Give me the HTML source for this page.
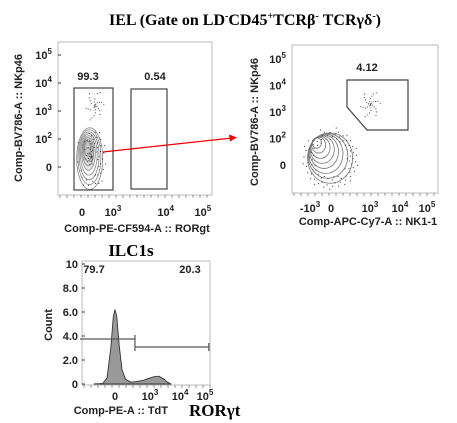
<!DOCTYPE html>
<html><head><meta charset="utf-8">
<style>
html,body{margin:0;padding:0;background:#fff;}
svg{display:block;font-family:"Liberation Sans",Arial,sans-serif;}
.t{font-size:11px;font-weight:bold;fill:#222;}
.s{font-size:8px;font-weight:bold;fill:#222;}
</style></head>
<body>
<svg id="root" width="457" height="423" viewBox="0 0 457 423">
<text x="245" y="25" text-anchor="middle" font-family="Liberation Serif,serif" font-weight="bold" font-size="16">IEL (Gate on LD<tspan font-size="10" dy="-6">-</tspan><tspan dy="6">CD45</tspan><tspan font-size="10" dy="-6">+</tspan><tspan dy="6">TCRβ</tspan><tspan font-size="10" dy="-6">-</tspan><tspan dy="6"> TCRγδ</tspan><tspan font-size="10" dy="-6">-</tspan><tspan dy="6">)</tspan></text>

<g id="p1">
<rect x="58" y="42" width="154" height="153" fill="none" stroke="#bbb" stroke-width="1"/>
<text class="t" transform="translate(22,118) rotate(-90)" text-anchor="middle">Comp-BV786-A :: NKp46</text>
<text class="t" x="137" y="232" text-anchor="middle">Comp-PE-CF594-A :: RORgt</text>
<rect x="74" y="88" width="39" height="102" fill="none" stroke="#444" stroke-width="1.2"/>
<rect x="131" y="89" width="36" height="100" fill="none" stroke="#444" stroke-width="1.2"/>
<text class="t" x="88" y="80" text-anchor="middle">99.3</text>
<text class="t" x="155" y="80" text-anchor="middle">0.54</text>
</g>

<g id="p2">
<rect x="292" y="45" width="146" height="148" fill="none" stroke="#bbb" stroke-width="1"/>
<text class="t" transform="translate(258,122) rotate(-90)" text-anchor="middle">Comp-BV786-A :: NKp46</text>
<text class="t" x="368" y="225" text-anchor="middle">Comp-APC-Cy7-A :: NK1-1</text>
<polygon points="347,80 408,80 408,130 367,130 347,107" fill="none" stroke="#444" stroke-width="1.2"/>
<text class="t" x="367" y="71" text-anchor="middle">4.12</text>
</g>

<line x1="103" y1="152" x2="232" y2="138" stroke="#e00" stroke-width="1.2"/>
<polygon points="237,137.5 229,134.5 230,141.5" fill="#e00"/>

<g id="p3">
<text x="131" y="256" text-anchor="middle" font-family="Liberation Serif,serif" font-weight="bold" font-size="17">ILC1s</text>
<text class="t" transform="translate(52,325) rotate(-90)" text-anchor="middle" font-size="10">Count</text>
<text class="t" x="168" y="414" text-anchor="end" font-size="10">Comp-PE-A :: TdT</text>
<text x="189" y="416" font-family="Liberation Serif,serif" font-weight="bold" font-size="17">RORγt</text>
<text class="t" x="94" y="273" text-anchor="middle" font-size="10">79.7</text>
<text class="t" x="190" y="273" text-anchor="middle" font-size="10">20.3</text>
</g>
</svg>
<script>
const histPos   = [-0.6,-0.35,-0.23,-0.12,-0.05,0,0.05,0.12,0.2,0.3,0.45,0.6,0.8,0.95,1.1,1.25,1.4,1.5,1.6];
const histCount = [0,0.05,0.5,3.0,5.6,6.2,5.6,3.2,1.2,0.4,0.15,0.2,0.3,0.45,0.6,0.65,0.4,0.15,0];
const histYTicks = [0,2,4,6,8,10];
const histYLabels = ['0','2.0','4.0','6.0','8.0','10'];
const histXTickVals = [0,1,1.86,2.57];
const histXLabels = [['0',''],['10','3'],['10','4'],['10','5']];
const gateNegRange = [-1.0,0.57];
const gatePosRange = [0.57,2.68];

const p1YVals = [0,1,2,3,4];
const p1YLabels = [['0',''],['10','2'],['10','3'],['10','4'],['10','5']];
const p1XVals = [0,1,2.7,3.9];
const p1XLabels = [['0',''],['10','3'],['10','4'],['10','5']];
const p1ContourCx = [0.25,0.24,0.23,0.22,0.21,0.2,0.19,0.18];
const p1ContourCy = [0.3,0.35,0.4,0.45,0.5,0.55,0.6,0.65];
const p1ContourRx = [0.42,0.37,0.32,0.27,0.22,0.18,0.14,0.1];
const p1ContourRy = [1.1,0.98,0.86,0.74,0.62,0.5,0.38,0.26];

const p2YVals = [0,1,2,3,4];
const p2YLabels = p1YLabels;
const p2XVals = [-0.7,0,1.3,2.3,3.2];
const p2XLabels = [['-10','3'],['0',''],['10','3'],['10','4'],['10','5']];
const p2ContourCx = [-0.03,-0.1,-0.17,-0.23,-0.29,-0.35,-0.41,-0.47];
const p2ContourCy = [0.26,0.34,0.42,0.5,0.58,0.66,0.75,0.83];
const p2ContourRx = [0.75,0.66,0.57,0.48,0.4,0.32,0.23,0.15];
const p2ContourRy = [0.95,0.84,0.74,0.63,0.52,0.41,0.3,0.2];

const NS='http://www.w3.org/2000/svg';
function mk(tag,attrs,parent){const e=document.createElementNS(NS,tag);for(const k in attrs)e.setAttribute(k,attrs[k]);parent.appendChild(e);return e;}
function supLabel(parent,x,y,base,sup,anchor){
  const t=mk('text',{x:x,y:y,'text-anchor':anchor,class:'t'},parent);
  t.textContent=base;
  if(sup){const s=mk('tspan',{dy:-5,class:'s'},t);s.textContent=sup;}
  return t;
}

(function(){
  const g=document.getElementById('p1');
  const yS=v=>167-v*28, xS=v=>82+v*31;
  p1YVals.forEach((v,i)=>{
    const t=supLabel(g,52,yS(v)+4,p1YLabels[i][0],p1YLabels[i][1],'end');
    
    
    const l=mk('line',{x1:58,x2:61,y1:yS(v),y2:yS(v),stroke:'#333'},g);
    
    
  });
  p1XVals.forEach((v,i)=>{
    const t=supLabel(g,xS(v),216,p1XLabels[i][0],p1XLabels[i][1],'middle');
    
    
  });
  for(let k=0;k<22;k++){
    const xx=60+k*7;const l=mk('line',{x1:xx,x2:xx,y1:195,y2:198,stroke:'#555','stroke-width':0.6},g);
    
    
  }
  for(let i=0;i<p1ContourCx.length;i++){
    const e=mk('ellipse',{cx:xS(p1ContourCx[i]),cy:yS(p1ContourCy[i]),rx:p1ContourRx[i]*31,ry:p1ContourRy[i]*28,fill:i>3?'#bbb':'none','fill-opacity':0.35,stroke:'#888','stroke-width':0.8},g);
    
    
  }
  for(let k=0;k<70;k++){
    const a=k*2.399, r=((k*37)%23)/23;
    const c=mk('rect',{x:xS(0.3+Math.cos(a)*0.5*r),y:yS(0.4+Math.sin(a)*1.3*r),width:1,height:1,fill:'#333'},g);
    
    
  }
  for(let k=0;k<30;k++){
    const a=k*2.399, r=((k*29)%17)/17;
    const c=mk('rect',{x:xS(0.4+Math.cos(a)*0.35*r),y:yS(2.2+Math.sin(a)*0.6*r),width:1,height:1,fill:'#444'},g);
    
    
  }
})();

(function(){
  const g=document.getElementById('p2');
  const yS=v=>165-v*26.5, xS=v=>331+v*30;
  p2YVals.forEach((v,i)=>{
    const t=supLabel(g,286,yS(v)+4,p2YLabels[i][0],p2YLabels[i][1],'end');
    
    
  });
  p2XVals.forEach((v,i)=>{
    const t=supLabel(g,xS(v),212,p2XLabels[i][0],p2XLabels[i][1],'middle');
    
    
  });
  for(let k=0;k<21;k++){
    const xx=294+k*7;const l=mk('line',{x1:xx,x2:xx,y1:193,y2:196,stroke:'#555','stroke-width':0.6},g);
    
    
  }
  for(let i=0;i<p2ContourCx.length;i++){
    const cx=xS(p2ContourCx[i]), cy=yS(p2ContourCy[i]);
    const e=mk('ellipse',{cx:cx,cy:cy,rx:p2ContourRx[i]*30,ry:p2ContourRy[i]*26.5,fill:'none',stroke:'#777','stroke-width':0.8},g);
    
    
  }
  for(let k=0;k<90;k++){
    const a=k*2.399, r=0.7+((k*37)%23)/23*0.5;
    const c=mk('rect',{x:xS(-0.03+Math.cos(a)*0.8*r),y:yS(0.26+Math.sin(a)*1.0*r),width:1,height:1,fill:'#333'},g);
    
    
  }
  for(let k=0;k<35;k++){
    const a=k*2.399, r=((k*29)%17)/17;
    const c=mk('rect',{x:xS(1.3+Math.cos(a)*0.4*r),y:yS(2.3+Math.sin(a)*0.55*r),width:1,height:1,fill:'#444'},g);
    
    
  }
})();

(function(){
  const g=document.getElementById('p3');
  const yS=v=>384-v*12, xS=v=>115+v*35;
  const fr=mk('rect',{x:82,y:261,width:128,height:124,fill:'none',stroke:'#bbb'},g);
  
  
  histYTicks.forEach((v,i)=>{
    const t=mk('text',{x:78,y:yS(v)+4,'text-anchor':'end',class:'t','font-size':10},g);
    t.textContent=histYLabels[i];
    
    
    const l=mk('line',{x1:82,x2:85,y1:yS(v),y2:yS(v),stroke:'#333'},g);
    
    
  });
  histXTickVals.forEach((v,i)=>{
    const t=supLabel(g,xS(v),400,histXLabels[i][0],histXLabels[i][1],'middle');
    t.setAttribute('font-size','10');
    
    
  });
  for(let k=0;k<19;k++){
    const xx=84+k*7;const l=mk('line',{x1:xx,x2:xx,y1:385,y2:388,stroke:'#555','stroke-width':0.6},g);
    
    
  }
  let d='M'+xS(histPos[0])+' '+yS(0);
  histPos.forEach((p,i)=>{d+=' L'+xS(p).toFixed(1)+' '+yS(histCount[i]).toFixed(1);});
  d+=' L'+xS(histPos[histPos.length-1])+' '+yS(0)+' Z';
  const h=mk('path',{d:d,fill:'#999',stroke:'#333','stroke-width':0.9,'stroke-linejoin':'round'},g);
  
  
  const y1=339,y2=347;
  const g1=mk('line',{x1:xS(gateNegRange[0]),x2:xS(gateNegRange[1]),y1:y1,y2:y1,stroke:'#555','stroke-width':1.2},g);
  
  
  const g1e=mk('line',{x1:xS(gateNegRange[1]),x2:xS(gateNegRange[1]),y1:y1-4,y2:y1+4,stroke:'#555','stroke-width':1.2},g);
  
  
  const g2=mk('line',{x1:xS(gatePosRange[0]),x2:xS(gatePosRange[1]),y1:y2,y2:y2,stroke:'#555','stroke-width':1.2},g);
  
  
  [gatePosRange[0],gatePosRange[1]].forEach(v=>{
    const e=mk('line',{x1:xS(v),x2:xS(v),y1:y2-4,y2:y2+4,stroke:'#555','stroke-width':1.2},g);
    
    
  });
})();
</script>
</body></html>
